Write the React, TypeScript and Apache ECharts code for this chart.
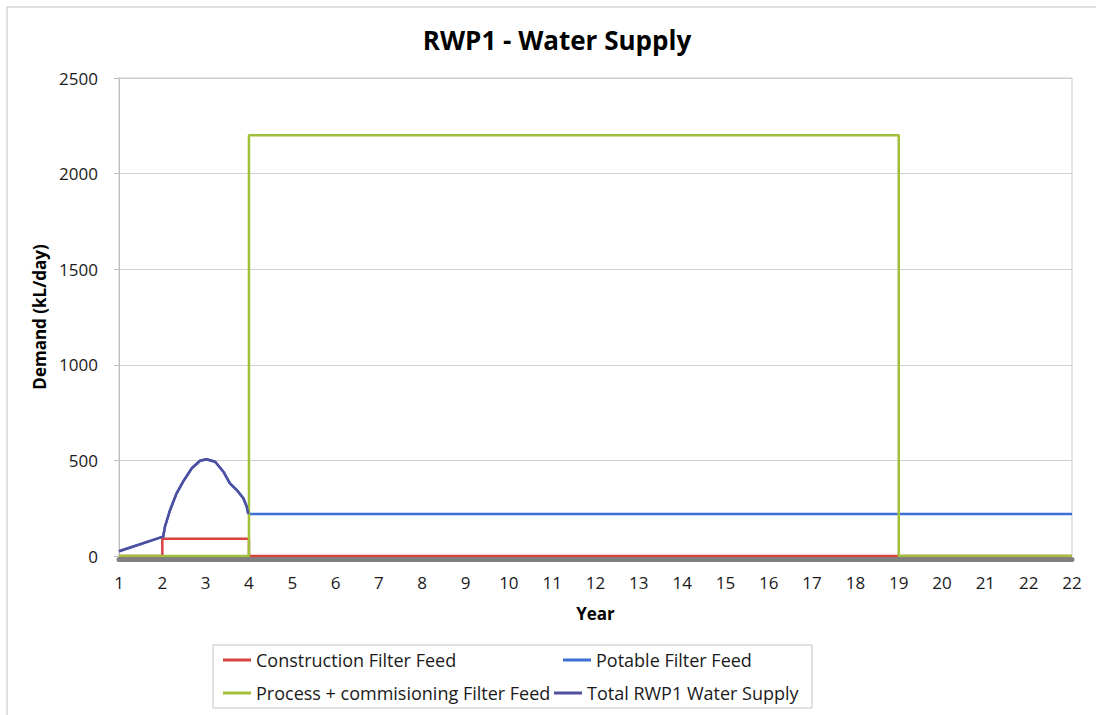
import React, { useEffect, useRef } from "react";
import * as echarts from "echarts";

const title = "RWP1 - Water Supply";
const xTickLabels = ["1","2","3","4","5","6","7","8","9","10","11","12","13","14","15","16","17","18","19","20","21","22","22"];
const seriesNames = [
  "Construction Filter Feed",
  "Potable Filter Feed",
  "Process + commisioning Filter Feed",
  "Total RWP1 Water Supply",
];

const constructionX = [1, 2, 2, 4, 4, 23];
const constructionY = [0, 0, 90, 90, 0, 0];

const curveX = [2.02, 2.06, 2.18, 2.33, 2.48, 2.68, 2.87, 3.02, 3.22, 3.41, 3.56, 3.72, 3.87, 3.95, 3.98];
const curveY = [101, 153, 241, 328, 389, 459, 498, 506, 493, 441, 380, 345, 302, 258, 225];

const potableX = [1, 2, ...curveX, 4, 23];
const potableY = [25, 100, ...curveY, 220, 220];

const processX = [1, 4, 4, 19, 19, 23];
const processY = [0, 0, 2200, 2200, 0, 0];

const totalX = [1, 2, ...curveX, 4];
const totalY = [25, 100, ...curveY, 222];

const colors = ["#D8433F", "#3B6FD2", "#A2BF3A", "#4F4F9F"];

const pairs = (xs: number[], ys: number[]) => xs.map((x, i) => [x, ys[i]]);

export default function App() {
  const ref = useRef<HTMLDivElement>(null);
  useEffect(() => {
    document.body.style.margin = "0";
    const chart = echarts.init(ref.current!, null, { renderer: "svg" });
    const font = "'Open Sans', 'Noto Sans', sans-serif";
    const mk = (i: number, xs: number[], ys: number[]) => ({
      name: seriesNames[i],
      type: "line",
      data: pairs(xs, ys),
      showSymbol: false,
      symbol: "none",
      lineStyle: { color: colors[i], width: 2.5 },
      itemStyle: { color: colors[i] },
      z: 2 + i,
    });
    const legendItem = (name: string, left: number, top: number) => ({
      orient: "horizontal",
      left,
      top,
      itemWidth: 28,
      itemHeight: 3,
      icon: "rect",
      textStyle: { fontFamily: font, fontSize: 18, color: "#1a1a1a", lineHeight: 20 },
      selectedMode: false,
      data: [name],
    });
    chart.setOption({
      animation: false,
      backgroundColor: "#ffffff",
      color: colors,
      title: {
        text: title,
        left: 552,
        top: 22,
        textAlign: "center",
        textStyle: { fontFamily: font, fontSize: 26, fontWeight: "bold", color: "#000" },
      },
      grid: {
        left: 119,
        right: 24,
        top: 78,
        bottom: 159,
        show: true,
        borderColor: "#c8c8c8",
        borderWidth: 1,
      },
      legend: [
        legendItem(seriesNames[0], 218, 645),
        legendItem(seriesNames[1], 558, 645),
        legendItem(seriesNames[2], 218, 678),
        legendItem(seriesNames[3], 549, 678),
      ],
      xAxis: {
        type: "value",
        min: 1,
        max: 23,
        interval: 1,
        name: "Year",
        nameLocation: "middle",
        nameGap: 46,
        nameTextStyle: { fontFamily: font, fontSize: 17, fontWeight: "bold", color: "#000" },
        offset: 3,
        axisLine: { show: true, onZero: false, lineStyle: { color: "#808080", width: 5 } },
        axisTick: { show: false },
        splitLine: { show: false },
        axisLabel: {
          fontFamily: font,
          fontSize: 17,
          color: "#1a1a1a",
          margin: 15,
          formatter: (v: number) => xTickLabels[Math.round(v) - 1] ?? "",
        },
      },
      yAxis: {
        type: "value",
        min: 0,
        max: 2500,
        interval: 500,
        name: "Demand (kL/day)",
        nameLocation: "middle",
        nameGap: 70,
        nameTextStyle: { fontFamily: font, fontSize: 17, fontWeight: "bold", color: "#000" },
        axisLine: { show: true, lineStyle: { color: "#bfbfbf", width: 1 } },
        axisTick: { show: true, length: 5, lineStyle: { color: "#bfbfbf" } },
        splitLine: { show: true, lineStyle: { color: "#d0d0d0", width: 1 } },
        axisLabel: {
          fontFamily: font,
          fontSize: 17,
          color: "#1a1a1a",
          margin: 21,
          formatter: (v: number) => String(v),
        },
      },
      graphic: [
        {
          type: "rect",
          shape: { x: 7, y: 7, width: 1100, height: 720 },
          style: { fill: "none", stroke: "#c4c4c4", lineWidth: 1 },
          silent: true,
        },
        {
          type: "rect",
          shape: { x: 213, y: 645, width: 599, height: 63 },
          style: { fill: "none", stroke: "#c4c4c4", lineWidth: 1 },
          silent: true,
        },
      ],
      series: [
        mk(0, constructionX, constructionY),
        mk(1, potableX, potableY),
        mk(2, processX, processY),
        mk(3, totalX, totalY),
      ],
    });
    return () => chart.dispose();
  }, []);
  return <div ref={ref} style={{ width: 1096, height: 715 }} />;
}
